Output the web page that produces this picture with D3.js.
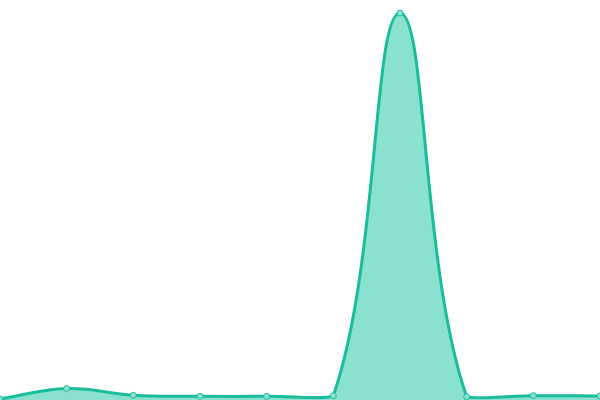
<!DOCTYPE html>
<html>
<head>
<meta charset="utf-8">
<script src="https://cdn.jsdelivr.net/npm/d3@7"></script>
<style>
  html, body { margin: 0; padding: 0; background: #fff; }
  svg { display: block; }
</style>
</head>
<body>
<div id="chart"></div>
<script>
// MARK: - Data
const categories = [0, 1, 2, 3, 4, 5, 6, 7, 8, 9];
const values = [1, 11.5, 4.7, 3.7, 3.7, 4.3, 387, 3.3, 4.3, 4];

const width = 600;
const height = 400;

/**
 * Spline with distance-weighted control points, clamped to the plot area.
 */
class ClampedSpline {
  constructor(context, tension) {
    this._context = context;
    this._tension = tension;
  }

  areaStart() { this._line = 0; }
  areaEnd() { this._line = NaN; }
  lineStart() { this._pts = []; }
  point(x, y) { this._pts.push([+x, +y]); }

  lineEnd() {
    const p = this._pts;
    const ctx = this._context;
    const n = p.length;
    if (n) {
      this._line ? ctx.lineTo(p[0][0], p[0][1]) : ctx.moveTo(p[0][0], p[0][1]);
      const cps = p.map((cur, i) => {
        const prev = p[i - 1] || cur;
        const next = p[i + 1] || cur;
        const d01 = Math.hypot(cur[0] - prev[0], cur[1] - prev[1]);
        const d12 = Math.hypot(next[0] - cur[0], next[1] - cur[1]);
        const sum = d01 + d12 || 1;
        const fa = this._tension * d01 / sum;
        const fb = this._tension * d12 / sum;
        const dx = next[0] - prev[0], dy = next[1] - prev[1];
        const clampX = v => Math.max(0, Math.min(width, v));
        const clampY = v => Math.max(0, Math.min(height, v));
        return {
          inX: clampX(cur[0] - fa * dx), inY: clampY(cur[1] - fa * dy),
          outX: clampX(cur[0] + fb * dx), outY: clampY(cur[1] + fb * dy)
        };
      });
      for (let i = 1; i < n; i++) {
        ctx.bezierCurveTo(cps[i - 1].outX, cps[i - 1].outY, cps[i].inX, cps[i].inY, p[i][0], p[i][1]);
      }
    }
    if (this._line || (this._line !== 0 && n === 1)) ctx.closePath();
    this._line = 1 - this._line;
  }
}

const spline = context => new ClampedSpline(context, 0.4);

const svg = d3.select('#chart').append('svg')
  .attr('width', width)
  .attr('height', height);

const x = d3.scaleLinear()
  .domain(d3.extent(categories))
  .range([0, width]);

const y = d3.scaleLinear()
  .domain([0, 400])
  .range([height, 0]);

const points = categories.map((c, i) => ({c: c, v: values[i]}));

const area = d3.area()
  .x(d => x(d.c))
  .y0(height)
  .y1(d => y(d.v))
  .curve(spline);

const line = d3.line()
  .x(d => x(d.c))
  .y(d => y(d.v))
  .curve(spline);

svg.append('path')
  .datum(points)
  .attr('d', area)
  .attr('fill', '#8ae1d0');

svg.append('path')
  .datum(points)
  .attr('d', line)
  .attr('fill', 'none')
  .attr('stroke', '#1abc9c')
  .attr('stroke-width', 3);

svg.selectAll('circle')
  .data(points)
  .join('circle')
  .attr('cx', d => x(d.c))
  .attr('cy', d => y(d.v))
  .attr('r', 3)
  .attr('fill', '#8ae1d0')
  .attr('stroke', '#1abc9c')
  .attr('stroke-width', 1);
</script>
</body>
</html>
